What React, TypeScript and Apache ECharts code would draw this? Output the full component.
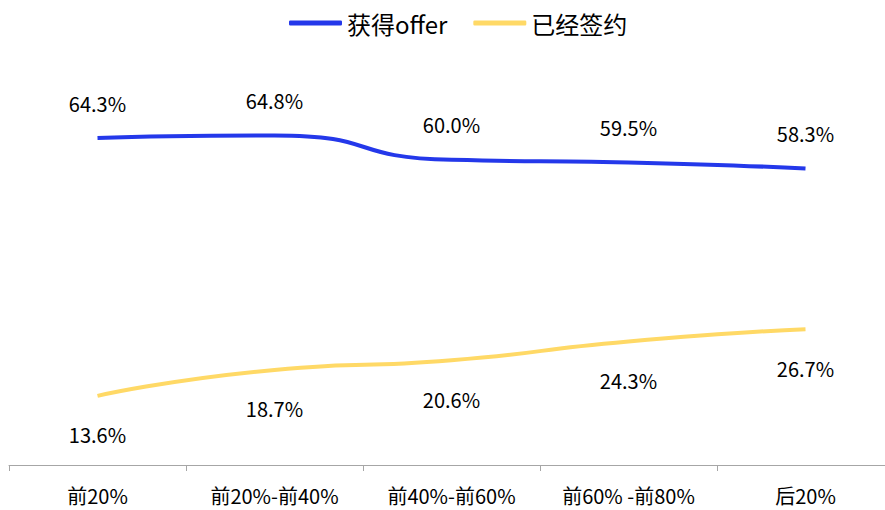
import React, { useEffect, useRef } from "react";
import * as echarts from "echarts";

const categories = ["前20%", "前20%-前40%", "前40%-前60%", "前60% -前80%", "后20%"];
const offerValues = [64.3, 64.8, 60.0, 59.5, 58.3];
const signedValues = [13.6, 18.7, 20.6, 24.3, 26.7];
const seriesNames = ["获得offer", "已经签约"];

const FONT = "'Noto Sans CJK SC', 'Noto Sans', sans-serif";

export default function App() {
  const ref = useRef<HTMLDivElement>(null);
  useEffect(() => {
    document.body.style.margin = "0";
    document.body.style.overflow = "hidden";
    const chart = echarts.init(ref.current!, null, { renderer: "svg" });
    const fmt = (p: any) => Number(p.value).toFixed(1) + "%";
    chart.setOption({
      animation: false,
      textStyle: { fontFamily: FONT },
      legend: {
        top: 6,
        left: 284,
        itemWidth: 53,
        itemHeight: 5,
        itemGap: 26,
        icon: "roundRect",
        textStyle: { fontSize: 24, color: "#000", fontFamily: FONT },
        data: seriesNames,
      },
      grid: { left: 9, right: 0, top: 109, bottom: 45 },
      xAxis: {
        type: "category",
        data: categories,
        boundaryGap: true,
        axisLine: { lineStyle: { color: "#a6a6a6", width: 1 } },
        axisTick: { show: true, length: 6, lineStyle: { color: "#a6a6a6" } },
        axisLabel: { fontSize: 20, color: "#000", margin: 20, fontFamily: FONT },
      },
      yAxis: {
        type: "value",
        min: 0,
        max: 70,
        show: false,
        splitLine: { show: false },
      },
      series: [
        {
          name: seriesNames[0],
          type: "line",
          data: offerValues,
          smooth: 0.6,
          symbol: "circle",
          symbolSize: 0,
          showSymbol: true,
          lineStyle: { color: "#2438EA", width: 4 },
          itemStyle: { color: "#2438EA" },
          label: {
            show: true,
            position: "top",
            distance: 25,
            fontSize: 20,
            color: "#000",
            fontFamily: FONT,
            formatter: fmt,
          },
        },
        {
          name: seriesNames[1],
          type: "line",
          data: signedValues,
          smooth: 0.6,
          symbol: "circle",
          symbolSize: 0,
          showSymbol: true,
          lineStyle: { color: "#FFD966", width: 4 },
          itemStyle: { color: "#FFD966" },
          label: {
            show: true,
            position: "bottom",
            distance: 29,
            fontSize: 20,
            color: "#000",
            fontFamily: FONT,
            formatter: fmt,
          },
        },
      ],
    });
    return () => chart.dispose();
  }, []);
  return <div ref={ref} style={{ width: 894, height: 510 }} />;
}
